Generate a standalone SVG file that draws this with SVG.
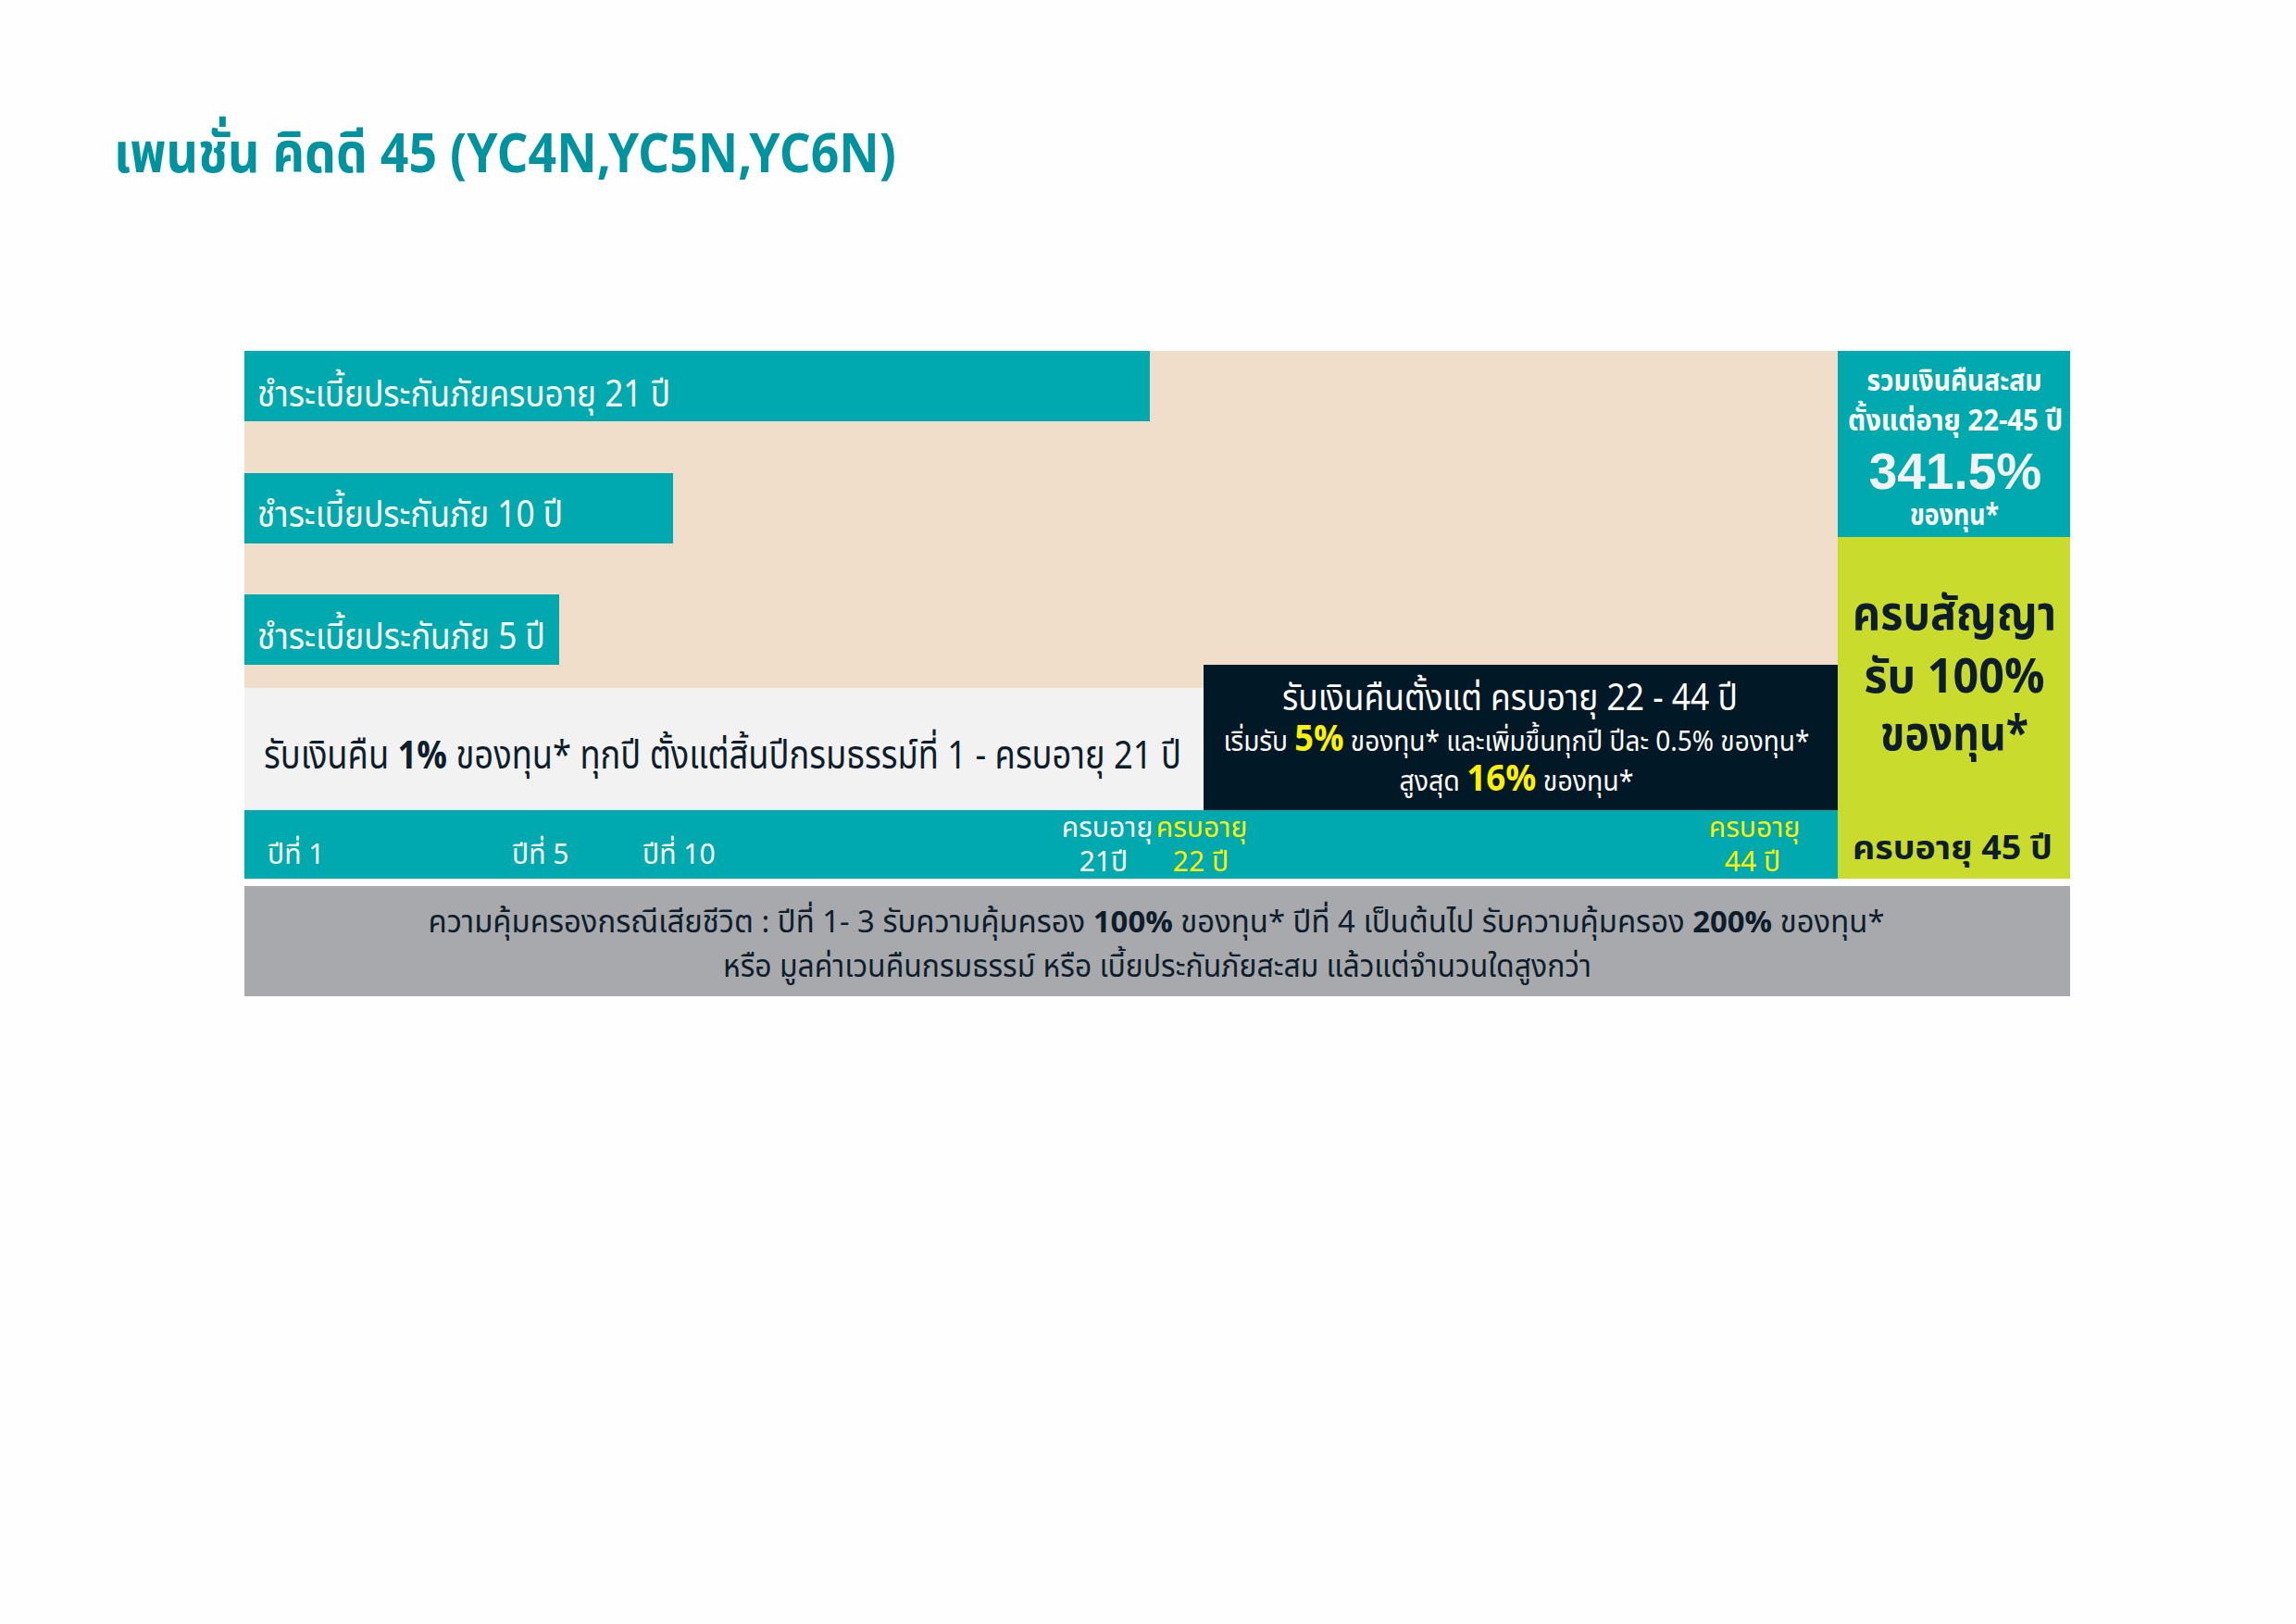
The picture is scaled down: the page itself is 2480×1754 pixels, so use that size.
<svg xmlns="http://www.w3.org/2000/svg" width="2480" height="1754" viewBox="0 0 2480 1754">
<style>
text{font-family:"Noto Sans Thai","Noto Sans","DejaVu Sans",sans-serif}
.w{fill:#ffffff}
.d{fill:#0d1d2b}
.y{fill:#fff200}
.b{font-weight:bold}
.c{text-anchor:middle}
</style>
<rect width="2480" height="1754" fill="#fefefe"/>
<g id="title"><text x="123" y="186" font-size="60" font-weight="bold" fill="#00929f" textLength="845" lengthAdjust="spacingAndGlyphs">เพนชั่น คิดดี 45 (YC4N,YC5N,YC6N)</text></g>
<g id="background"><rect x="264" y="379" width="1721" height="364" fill="#f0decb"/></g>
<g id="bar21">
<rect x="264" y="379" width="978" height="76" fill="#00a9ad"/>
<text x="278" y="439" font-size="40" class="w" textLength="446" lengthAdjust="spacingAndGlyphs">ชำระเบี้ยประกันภัยครบอายุ 21 ปี</text>
</g>
<g id="bar10">
<rect x="264" y="511" width="463" height="76" fill="#00a9ad"/>
<text x="278" y="569" font-size="40" class="w" textLength="330" lengthAdjust="spacingAndGlyphs">ชำระเบี้ยประกันภัย 10 ปี</text>
</g>
<g id="bar5">
<rect x="264" y="642" width="340" height="76" fill="#00a9ad"/>
<text x="278" y="701" font-size="40" class="w" textLength="311" lengthAdjust="spacingAndGlyphs">ชำระเบี้ยประกันภัย 5 ปี</text>
</g>
<g id="refund1">
<rect x="264" y="743" width="1036" height="132" fill="#f2f2f2"/>
<text x="285" y="830" font-size="42" class="d" textLength="991" lengthAdjust="spacingAndGlyphs">รับเงินคืน <tspan class="b">1%</tspan> ของทุน* ทุกปี ตั้งแต่สิ้นปีกรมธรรม์ที่ 1 - ครบอายุ 21 ปี</text>
</g>
<g id="refund2">
<rect x="1300" y="718" width="685" height="157" fill="#011826"/>
<text x="1631" y="767" font-size="40" class="w c" textLength="492" lengthAdjust="spacingAndGlyphs">รับเงินคืนตั้งแต่ ครบอายุ 22 - 44 ปี</text>
<text x="1638" y="811" font-size="31" class="w c" textLength="633" lengthAdjust="spacingAndGlyphs">เริ่มรับ <tspan class="y b" font-size="40">5%</tspan> ของทุน* และเพิ่มขึ้นทุกปี ปีละ 0.5% ของทุน*</text>
<text x="1638" y="854" font-size="31" class="w c" textLength="253" lengthAdjust="spacingAndGlyphs">สูงสุด <tspan class="y b" font-size="40">16%</tspan> ของทุน*</text>
</g>
<g id="timeline">
<rect x="264" y="875" width="1721" height="74" fill="#00a9ad"/>
<text x="289" y="933" font-size="30" class="w">ปีที่ 1</text>
<text x="553" y="933" font-size="30" class="w">ปีที่ 5</text>
<text x="694" y="933" font-size="30" class="w">ปีที่ 10</text>
<text x="1196" y="904" font-size="30" class="w c">ครบอายุ</text>
<text x="1192" y="941" font-size="30" class="w c">21ปี</text>
<text x="1298" y="904" font-size="30" class="y c">ครบอายุ</text>
<text x="1297" y="941" font-size="30" class="y c">22 ปี</text>
<text x="1895" y="904" font-size="30" class="y c">ครบอายุ</text>
<text x="1893" y="941" font-size="30" class="y c">44 ปี</text>
</g>
<g id="total">
<rect x="1985" y="379" width="251" height="201" fill="#00a9ad"/>
<text x="2111" y="422" font-size="32" class="w c b" textLength="189" lengthAdjust="spacingAndGlyphs">รวมเงินคืนสะสม</text>
<text x="2112" y="465" font-size="32" class="w c b" textLength="232" lengthAdjust="spacingAndGlyphs">ตั้งแต่อายุ 22-45 ปี</text>
<text x="2112" y="528" font-size="55" class="c b" fill="#f2f2f2" font-family="Liberation Sans" style="font-family:'Liberation Sans',sans-serif">341.5%</text>
<text x="2111" y="567" font-size="32" class="w c b" textLength="96" lengthAdjust="spacingAndGlyphs">ของทุน*</text>
</g>
<g id="maturity">
<rect x="1985" y="580" width="251" height="369" fill="#c9db2d"/>
<text x="2111" y="680" font-size="52" class="d c b" textLength="220" lengthAdjust="spacingAndGlyphs">ครบสัญญา</text>
<text x="2111" y="748" font-size="52" class="d c b" textLength="195" lengthAdjust="spacingAndGlyphs">รับ 100%</text>
<text x="2111" y="810" font-size="52" class="d c b" textLength="160" lengthAdjust="spacingAndGlyphs">ของทุน*</text>
<text x="2109" y="928" font-size="36" class="d c b" textLength="216" lengthAdjust="spacingAndGlyphs">ครบอายุ 45 ปี</text>
</g>
<g id="death">
<rect x="264" y="957" width="1972" height="119" fill="#a7a9ac"/>
<text x="1249" y="1007" font-size="33" class="d c" textLength="1573" lengthAdjust="spacingAndGlyphs">ความคุ้มครองกรณีเสียชีวิต :  ปีที่ 1- 3 รับความคุ้มครอง <tspan class="b">100%</tspan> ของทุน* ปีที่ 4 เป็นต้นไป รับความคุ้มครอง <tspan class="b">200%</tspan> ของทุน*</text>
<text x="1250" y="1055" font-size="33" class="d c" textLength="938" lengthAdjust="spacingAndGlyphs">หรือ มูลค่าเวนคืนกรมธรรม์ หรือ เบี้ยประกันภัยสะสม แล้วแต่จำนวนใดสูงกว่า</text>
</g>
</svg>
